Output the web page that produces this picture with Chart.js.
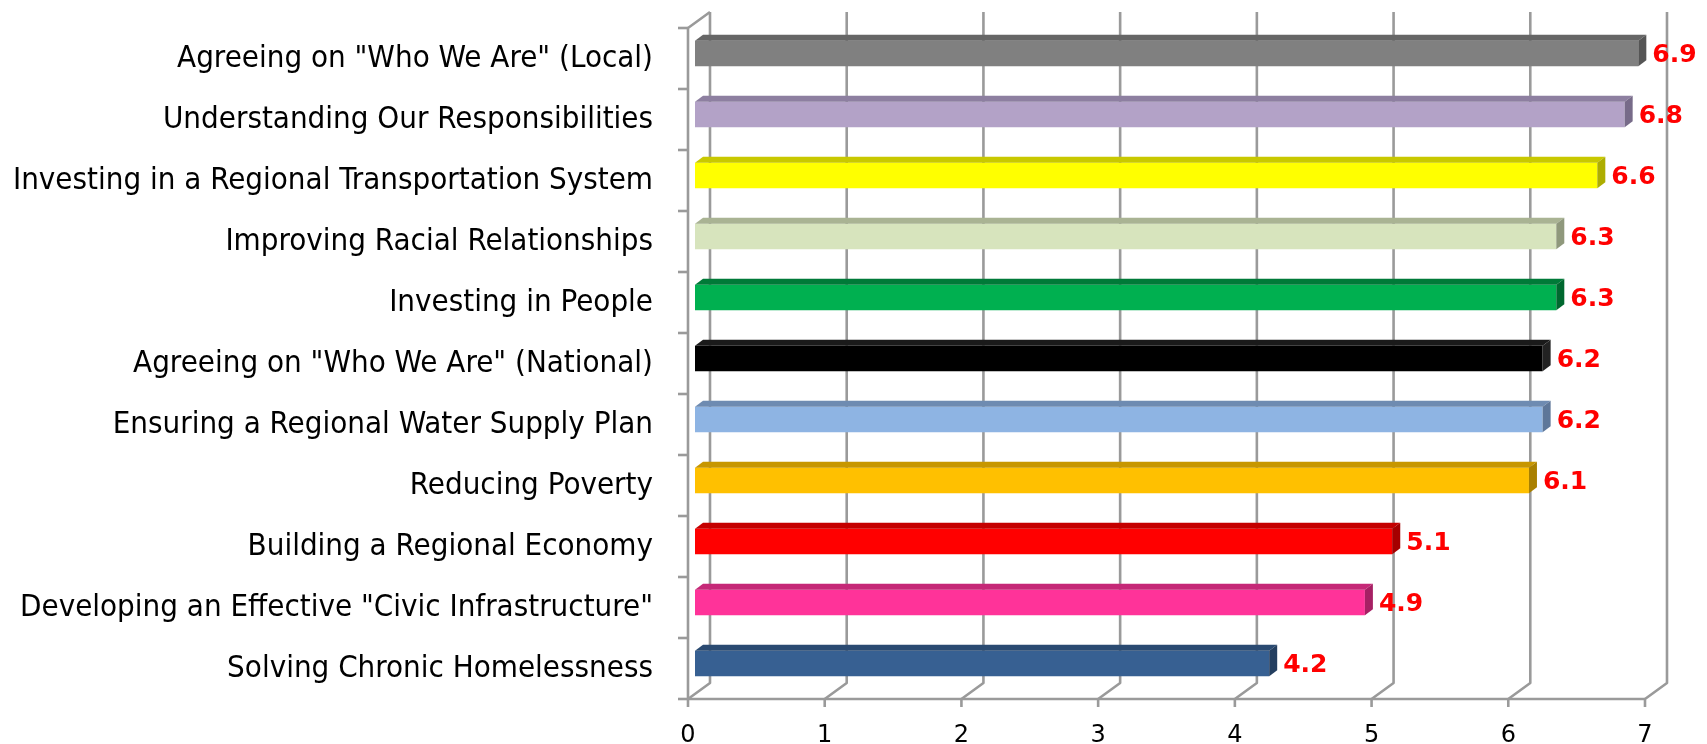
<!DOCTYPE html>
<html>
<head>
<meta charset="utf-8">
<script src="https://cdn.jsdelivr.net/npm/chart.js@4/dist/chart.umd.min.js"></script>
<style>
html,body{margin:0;padding:0;background:#fff;}
#wrap{width:1707px;height:744px;position:relative;}
</style>
</head>
<body>
<div id="wrap"><canvas id="c"></canvas></div>
<script>
// categories top -> bottom
const CATEGORIES=[
  'Agreeing on "Who We Are" (Local)',
  'Understanding Our Responsibilities',
  'Investing in a Regional Transportation System',
  'Improving Racial Relationships',
  'Investing in People',
  'Agreeing on "Who We Are" (National)',
  'Ensuring a Regional Water Supply Plan',
  'Reducing Poverty',
  'Building a Regional Economy',
  'Developing an Effective "Civic Infrastructure"',
  'Solving Chronic Homelessness'
];
const SCORES=[6.9,6.8,6.6,6.3,6.3,6.2,6.2,6.1,5.1,4.9,4.2];
const X_MIN=0, X_MAX=7;

// bar faces: front, top, right end
const FRONT=['#808080','#b3a2c7','#ffff00','#d7e4bd','#00b050','#000000','#8eb4e3','#ffc000','#ff0000','#ff3399','#376092'];
const TOP  =['#666666','#8d7fa0','#c8c800','#a9b393','#007a38','#1a1a1a','#6e8bb1','#c79600','#c40000','#c52877','#2a4a71'];
const SIDE =['#555555','#776b89','#adad00','#8f987c','#00682f','#222222','#5e7799','#a98000','#a50000','#a62064','#233e5f'];

const GRID='#9a9a9a';
const WALL={dx:22,dy:-16};   // back wall offset
const BAR ={dx:7,dy:-5};     // bar front face offset
const DEP ={dx:8,dy:-6};     // bar depth

const frame3d={
  id:'frame3d',
  beforeDatasetsDraw(chart){
    const {ctx}=chart, xs=chart.scales.x, ys=chart.scales.y;
    const top=ys.top, bottom=ys.bottom, n=CATEGORIES.length;
    ctx.save();
    ctx.strokeStyle=GRID;ctx.lineWidth=2.6;ctx.lineJoin='round';
    for(let v=X_MIN;v<=X_MAX;v++){
      const x=xs.getPixelForValue(v);
      ctx.beginPath();
      ctx.moveTo(x+WALL.dx,top+WALL.dy);
      ctx.lineTo(x+WALL.dx,bottom+WALL.dy);
      ctx.lineTo(x,bottom);
      ctx.lineTo(x,bottom+8);
      ctx.stroke();
    }
    // front axes
    ctx.beginPath();
    ctx.moveTo(xs.left+WALL.dx,top+WALL.dy);
    ctx.lineTo(xs.left,top);
    ctx.lineTo(xs.left,bottom);
    ctx.lineTo(xs.right,bottom);
    ctx.stroke();
    // category ticks on the left axis
    for(let i=0;i<=n;i++){
      const y=top+(bottom-top)*i/n;
      ctx.beginPath();ctx.moveTo(xs.left-10,y);ctx.lineTo(xs.left,y);ctx.stroke();
    }
    ctx.restore();
  },
  beforeDatasetDraw(chart){
    chart.ctx.save();
    chart.ctx.translate(BAR.dx,BAR.dy);
  },
  afterDatasetDraw(chart,args){
    const {ctx}=chart;
    args.meta.data.forEach((b,i)=>{
      const x0=b.base,x1=b.x,t=b.y-b.height/2,bt=b.y+b.height/2;
      // top face
      ctx.fillStyle=TOP[i];
      ctx.beginPath();
      ctx.moveTo(x0,t);ctx.lineTo(x0+DEP.dx,t+DEP.dy);ctx.lineTo(x1+DEP.dx,t+DEP.dy);ctx.lineTo(x1,t);
      ctx.closePath();ctx.fill();
      // right end face
      ctx.fillStyle=SIDE[i];
      ctx.beginPath();
      ctx.moveTo(x1,t);ctx.lineTo(x1+DEP.dx,t+DEP.dy);ctx.lineTo(x1+DEP.dx,bt+DEP.dy);ctx.lineTo(x1,bt);
      ctx.closePath();ctx.fill();
      // value label
      ctx.fillStyle='#ff0000';
      ctx.font='bold 25px "DejaVu Sans"';
      ctx.textAlign='left';ctx.textBaseline='middle';
      ctx.fillText(SCORES[i].toFixed(1),x1+DEP.dx+6,b.y+2);
    });
    ctx.restore();
  }
};

new Chart(document.getElementById('c'),{
  type:'bar',
  data:{labels:CATEGORIES,datasets:[{
    data:SCORES,
    backgroundColor:FRONT,
    borderWidth:0,
    barPercentage:0.42,categoryPercentage:1
  }]},
  options:{
    indexAxis:'y',
    responsive:true,maintainAspectRatio:false,animation:false,
    devicePixelRatio:1,
    layout:{padding:{top:28,right:62,left:0,bottom:0}},
    plugins:{legend:{display:false},tooltip:{enabled:false}},
    scales:{
      x:{min:X_MIN,max:X_MAX,
        grid:{display:false,drawTicks:false},border:{display:false},
        ticks:{stepSize:1,color:'#000',padding:22,font:{family:'"DejaVu Sans"',size:24}},
        afterFit:s=>{s.height=45;s.paddingLeft=0;s.paddingRight=0;}},
      y:{grid:{display:false,drawTicks:false},border:{display:false},
        ticks:{color:'#000',padding:35,font:{family:'"DejaVu Sans Condensed", "DejaVu Sans"',size:31}},
        afterFit:s=>{s.width=688;s.paddingTop=0;s.paddingBottom=0;}}
    }
  },
  plugins:[frame3d]
});
</script>
</body>
</html>
